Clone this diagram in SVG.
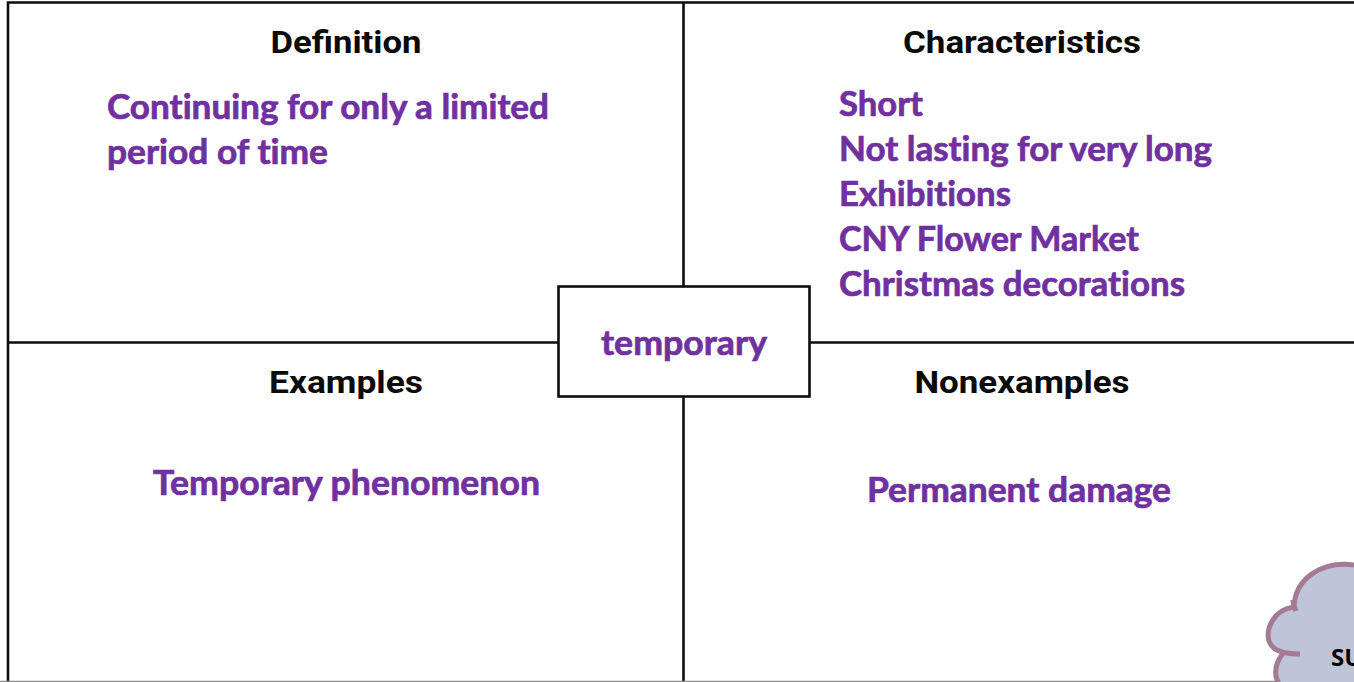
<svg xmlns="http://www.w3.org/2000/svg" width="1354" height="682" viewBox="0 0 1354 682">
<style>
.h{font-family:"Roboto","Liberation Sans",sans-serif;font-weight:700;font-size:32px;fill:#0a0a0a;text-anchor:middle}
.p{font-family:"Lato","Open Sans",sans-serif;font-weight:700;font-size:34px;fill:#7030a0;stroke:#7030a0;stroke-width:.7;font-variant-ligatures:none}
.l{stroke:#0d0d0d;stroke-width:2.6;fill:none}
</style>
<rect width="1354" height="682" fill="#fff"/>
<g id="connectors">
<path class="l" d="M1354 2.500H8V682"/>
<path class="l" d="M683.500 2.500V682"/>
<path class="l" d="M8 342.500H1354"/>
<path d="M0 681.500H1354" stroke="#8c8c8c" stroke-width="1.500"/>
</g>
<g id="definition">
<text class="h" x="346" y="53" textLength="151" lengthAdjust="spacingAndGlyphs">Definition</text>
<text class="p" x="107" y="119" textLength="442" lengthAdjust="spacingAndGlyphs">Continuing for only a limited</text>
<text class="p" x="107" y="164" textLength="221" lengthAdjust="spacingAndGlyphs">period of time</text>
</g>
<g id="characteristics">
<text class="h" x="1022" y="53" textLength="238" lengthAdjust="spacingAndGlyphs">Characteristics</text>
<text class="p" x="839" y="116" textLength="84" lengthAdjust="spacingAndGlyphs">Short</text>
<text class="p" x="839" y="161" textLength="373" lengthAdjust="spacingAndGlyphs">Not lasting for very long</text>
<text class="p" x="839" y="206" textLength="172" lengthAdjust="spacingAndGlyphs">Exhibitions</text>
<text class="p" x="839" y="251" textLength="300" lengthAdjust="spacingAndGlyphs">CNY Flower Market</text>
<text class="p" x="839" y="296" textLength="346" lengthAdjust="spacingAndGlyphs">Christmas decorations</text>
</g>
<g id="examples">
<text class="h" x="346" y="393" textLength="154" lengthAdjust="spacingAndGlyphs">Examples</text>
<text class="p" x="153" y="495" textLength="387" lengthAdjust="spacingAndGlyphs">Temporary phenomenon</text>
</g>
<g id="nonexamples">
<text class="h" x="1022" y="393" textLength="215" lengthAdjust="spacingAndGlyphs">Nonexamples</text>
<text class="p" x="867" y="502" textLength="304" lengthAdjust="spacingAndGlyphs">Permanent damage</text>
</g>
<g id="center">
<rect x="558.500" y="286.500" width="251" height="110" fill="#fff" stroke="#0d0d0d" stroke-width="2.600"/>
<text class="p" x="601" y="355" textLength="166" lengthAdjust="spacingAndGlyphs">temporary</text>
</g>
<g id="cloud">
<path d="M1354 565C1322 561 1295 578 1294 607C1272 610 1266 630 1269 641C1272 650 1279 653 1285 654C1275 664 1273 674 1279 684L1354 684Z" fill="#bfc5d8"/>
<path d="M1354 565C1322 561 1295 578 1294 607C1272 610 1266 630 1269 641C1272 650 1284 654 1300 654M1283 653C1275 664 1273 674 1279 684M1293 600C1293 604 1295 608 1296 611" fill="none" stroke="#a57a94" stroke-width="5"/>
<text x="1331" y="666" font-family="Open Sans,sans-serif" font-weight="700" font-size="24" fill="#000">SU</text>
</g>
</svg>
